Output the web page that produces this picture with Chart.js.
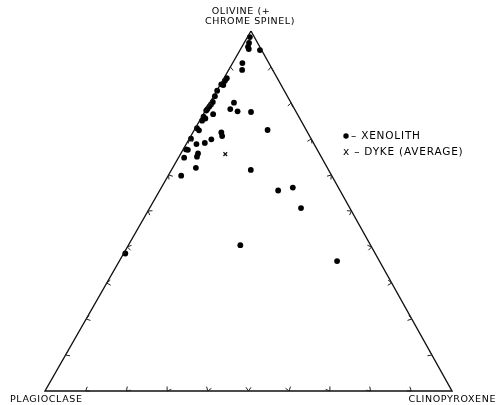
<!DOCTYPE html>
<html>
<head>
<meta charset="utf-8">
<script src="https://cdn.jsdelivr.net/npm/chart.js@4"></script>
<style>
  body { margin: 0; background: #fff; }
</style>
</head>
<body>
<canvas id="ternary" width="496" height="405"></canvas>
<script>
// xenolith compositions (%)
const xenoOlivine = [98.3, 96.7, 95.6, 95.0, 94.7, 91.1, 89.2, 86.9, 86.2, 85.0, 85.2, 83.4, 81.9, 80.3, 79.6, 79.0, 78.3, 77.9, 76.9, 76.2, 75.7, 75.1, 80.1, 78.3, 77.7, 77.5, 73.0, 72.4, 71.8, 70.8, 72.5, 70.1, 69.9, 68.9, 68.6, 67.1, 67.0, 66.0, 65.1, 64.8, 62.0, 61.4, 59.8, 55.7, 56.5, 50.8, 40.5, 36.1, 38.2];
const xenoPlagioclase = [1.1, 2.1, 2.9, 3.0, 0.4, 6.5, 7.5, 12.4, 13.2, 14.2, 14.6, 16.5, 17.8, 19.1, 19.9, 20.6, 21.4, 21.9, 20.7, 23.4, 23.2, 24.3, 14.0, 15.8, 14.3, 11.1, 26.6, 26.4, 21.2, 21.5, 9.5, 29.5, 24.6, 26.7, 28.9, 32.2, 31.8, 29.8, 30.5, 33.8, 32.3, 19.1, 37.0, 15.2, 11.2, 12.0, 32.0, 10.4, 61.4];
const xenoClinopyroxene = [0.6, 1.2, 1.5, 2.0, 4.9, 2.4, 3.3, 0.7, 0.6, 0.8, 0.2, 0.1, 0.3, 0.6, 0.5, 0.4, 0.3, 0.2, 2.4, 0.4, 1.1, 0.6, 5.9, 5.9, 8.0, 11.4, 0.4, 1.2, 7.0, 7.7, 18.0, 0.4, 5.5, 4.4, 2.5, 0.7, 1.2, 4.2, 4.4, 1.4, 5.7, 19.5, 3.2, 29.1, 32.3, 37.2, 27.5, 53.5, 0.4];

// dyke average
const dykeOlivine = [65.8];
const dykePlagioclase = [23.2];
const dykeClinopyroxene = [11.0];

// corners: olivine apex, plagioclase, clinopyroxene
const cornerLabels = ['OLIVINE (+', 'CHROME SPINEL)', 'PLAGIOCLASE', 'CLINOPYROXENE'];
const legendLabels = ['– XENOLITH', 'x – DYKE (AVERAGE)'];
const tickSteps = [10, 20, 30, 40, 50, 60, 70, 80, 90];

const APEX_SHIFT = 0.506; // the printed triangle leans a little

function toXY(ol, pl, cx) {
    const s = ol + pl + cx;
    return { x: (cx + ol * APEX_SHIFT) / s * 100, y: ol / s * 100 };
}

const xenoPoints = xenoOlivine.map((ol, i) => toXY(ol, xenoPlagioclase[i], xenoClinopyroxene[i]));
const dykePoints = dykeOlivine.map((ol, i) => toXY(ol, dykePlagioclase[i], dykeClinopyroxene[i]));
const frame = [toXY(100, 0, 0), toXY(0, 100, 0), toXY(0, 0, 100), toXY(100, 0, 0)];

// tick positions along each side, as ternary compositions
const sideTicks = [];
tickSteps.forEach(t => {
    sideTicks.push(toXY(t, 100 - t, 0));
    sideTicks.push(toXY(t, 0, 100 - t));
    sideTicks.push(toXY(0, 100 - t, t));
});

const ternaryDecor = {
    id: 'ternaryDecor',
    afterDatasetsDraw(chart) {
        const ctx = chart.ctx;
        const sx = chart.scales.x, sy = chart.scales.y;
        const cxp = sx.getPixelForValue(50), cyp = sy.getPixelForValue(33);
        ctx.save();
        ctx.strokeStyle = '#222';
        ctx.lineWidth = 1;
        // small chevrons on the sides, opening inwards
        sideTicks.forEach(p => {
            const px = sx.getPixelForValue(p.x), py = sy.getPixelForValue(p.y);
            let nx = cxp - px, ny = cyp - py;
            const len = Math.hypot(nx, ny);
            nx /= len; ny /= len;
            const a = 0.6, r = 4.5;
            const c = Math.cos(a), s = Math.sin(a);
            ctx.beginPath();
            ctx.moveTo(px + r * (nx * c - ny * s), py + r * (nx * s + ny * c));
            ctx.lineTo(px, py);
            ctx.lineTo(px + r * (nx * c + ny * s), py + r * (-nx * s + ny * c));
            ctx.stroke();
        });

        ctx.fillStyle = '#000';
        ctx.font = '9.5px "DejaVu Sans"';
        ctx.letterSpacing = '0.6px';
        ctx.textBaseline = 'middle';
        ctx.textAlign = 'center';
        ctx.fillText(cornerLabels[0], 241, 12);
        ctx.fillText(cornerLabels[1], 250, 22);
        ctx.textAlign = 'left';
        ctx.fillText(cornerLabels[2], 10, 400);
        ctx.textAlign = 'right';
        ctx.fillText(cornerLabels[3], 496, 400);

        // legend
        ctx.font = '10.5px "DejaVu Sans"';
        ctx.letterSpacing = '0.8px';
        ctx.textAlign = 'left';
        ctx.beginPath();
        ctx.arc(346, 136, 2.7, 0, Math.PI * 2);
        ctx.fill();
        ctx.fillText(legendLabels[0], 351, 136);
        ctx.fillText(legendLabels[1], 343, 152);
        ctx.restore();
    }
};

new Chart(document.getElementById('ternary').getContext('2d'), {
    type: 'scatter',
    data: {
        datasets: [
            {
                label: 'frame',
                data: frame,
                showLine: true,
                borderColor: '#111',
                borderWidth: 1.4,
                pointRadius: 0,
                tension: 0,
                clip: false,
            },
            {
                label: 'XENOLITH',
                data: xenoPoints,
                backgroundColor: '#000',
                borderColor: '#000',
                pointRadius: 2.9,
                borderWidth: 0,
                clip: false,
            },
            {
                label: 'DYKE (AVERAGE)',
                data: dykePoints,
                pointStyle: 'crossRot',
                borderColor: '#111',
                borderWidth: 1.2,
                pointRadius: 2.6,
                clip: false,
            },
        ],
    },
    options: {
        responsive: false,
        devicePixelRatio: 1,
        animation: false,
        layout: { padding: { left: 45, right: 44, top: 31, bottom: 14 } },
        scales: {
            x: { type: 'linear', min: 0, max: 100, display: false },
            y: { type: 'linear', min: 0, max: 100, display: false },
        },
        plugins: {
            legend: { display: false },
            tooltip: { enabled: false },
        },
    },
    plugins: [ternaryDecor],
});
</script>
</body>
</html>
